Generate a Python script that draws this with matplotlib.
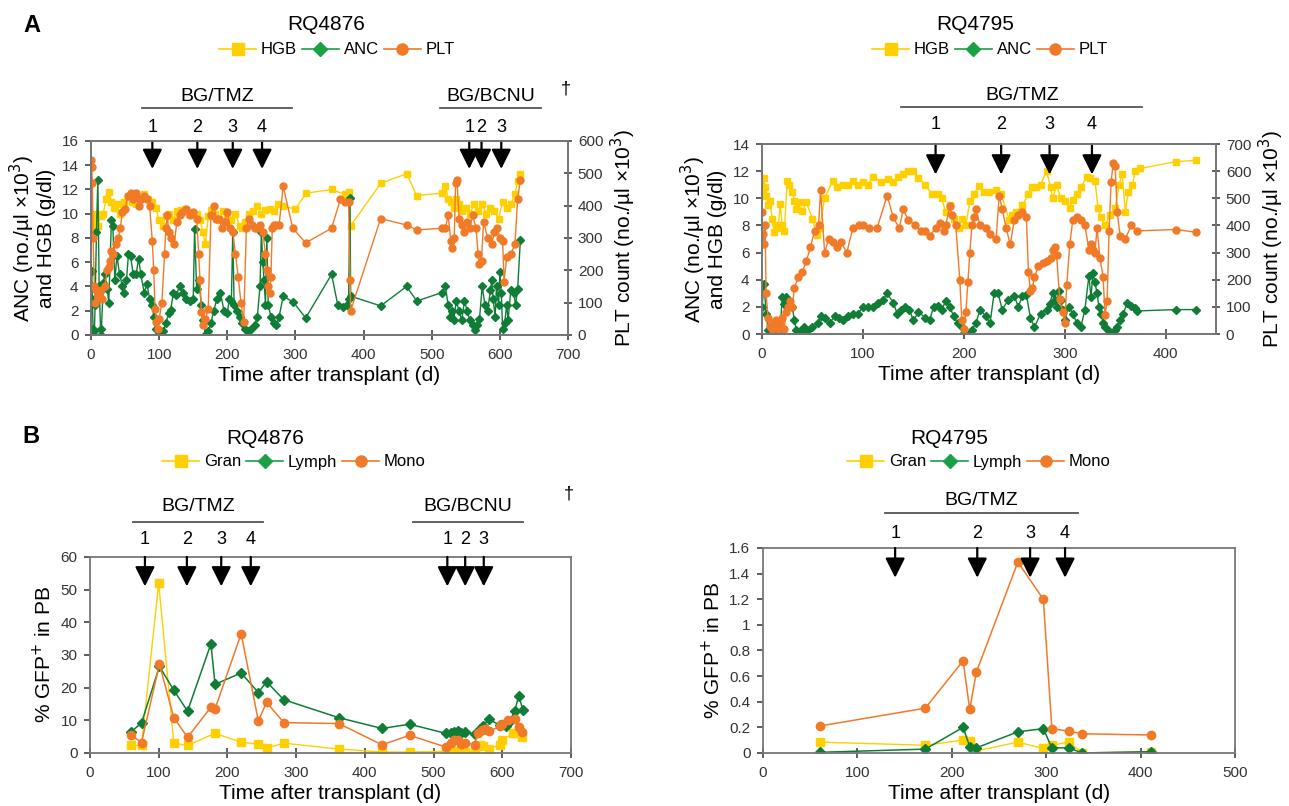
import matplotlib
matplotlib.use("Agg")
import matplotlib.pyplot as plt
from matplotlib.lines import Line2D
from matplotlib.ticker import FuncFormatter

plt.rcParams['font.family'] = ['Liberation Sans Narrow', 'Liberation Sans', 'DejaVu Sans']

YELLOW = '#FFCF00'
GREEN = '#0F7D36'
GREEN_L = '#1AA045'
ORANGE = '#F07A28'

# ---------------------------
# Panel A, RQ4876 : (day, value)
# ---------------------------
hgb_4876 = [(0, 10), (2, 9), (4, 8.5), (6, 9.5), (8, 10), (10, 9), (14, 9.8), (18, 10),
            (22, 11.2), (26, 11.8), (30, 11), (34, 10.5), (38, 10.8), (42, 10), (48, 11),
            (54, 11.5), (60, 11), (66, 10.8), (72, 11.3), (78, 11.6), (84, 11.2), (90, 11),
            (95, 10.5), (100, 9.5), (105, 9), (110, 9.8), (115, 10), (120, 9.5), (126, 10.2),
            (132, 10.3), (138, 10.4), (144, 10), (150, 10.1), (156, 10), (160, 9.5), (164, 8.5),
            (168, 7.5), (172, 9.8), (176, 10.3), (182, 10), (188, 9.5), (194, 10.2), (200, 9.8),
            (206, 9.5), (212, 10), (218, 9), (222, 8.8), (226, 9.3), (232, 10), (238, 10.2),
            (244, 10.6), (250, 10), (256, 10.3), (262, 10.4), (268, 10.2), (275, 10.8),
            (282, 10.6), (300, 10.4), (316, 11.7), (353, 12), (372, 11.6), (378, 11.8),
            (381, 9), (425, 12.5), (463, 13.3), (478, 11.5), (515, 11.7), (520, 12.3),
            (524, 11.2), (528, 11), (532, 10.5), (536, 11.2), (540, 10.8), (545, 10.2),
            (550, 10.5), (556, 10), (562, 10.8), (568, 10.2), (574, 10.8), (580, 10),
            (586, 10.5), (592, 10.2), (598, 9.6), (604, 11), (610, 10.5), (616, 10.8),
            (622, 11.6), (626, 12.7), (630, 13.3)]

anc_4876 = [(0, 4), (1, 5.3), (2, 3), (3, 0.5), (5, 0.3), (6, 2.5), (8, 8.5), (10, 12.8),
            (12, 4), (14, 0.5), (15, 0), (18, 4.3), (20, 5), (24, 3.8), (26, 2.6), (30, 9.5),
            (32, 9), (35, 4.5), (38, 6.5), (42, 5), (46, 4), (48, 3.5), (52, 4.5), (55, 6.7),
            (58, 6.5), (62, 5), (66, 5), (70, 6.3), (73, 5), (78, 3.5), (82, 4.2), (86, 3),
            (90, 2.5), (92, 1.5), (95, 0.5), (98, 0), (102, 0), (106, 0.3), (110, 1),
            (114, 1.8), (117, 2.1), (121, 3.5), (125, 3.3), (130, 4), (135, 3.5), (140, 3),
            (145, 2.8), (150, 3), (152, 8.7), (155, 3.8), (158, 4.5), (162, 2.5), (165, 1.2),
            (168, 0), (172, 0.3), (176, 1), (180, 2), (185, 3), (190, 3.5), (195, 2),
            (200, 1.8), (203, 3), (206, 2.8), (208, 8.5), (210, 2.5), (214, 2), (218, 1.5),
            (222, 1), (226, 0.5), (230, 0.3), (235, 0.5), (240, 0.8), (244, 1.5), (248, 4),
            (250, 8.5), (252, 6), (254, 4.5), (256, 2.5), (258, 8), (260, 2.5), (264, 1.5),
            (268, 1), (272, 0.8), (276, 1.5), (282, 3.2), (297, 2.7), (315, 1.4), (353, 5),
            (362, 2.5), (370, 2.3), (376, 2.5), (378, 3), (380, 11.3), (381, 3.2), (425, 2.4),
            (463, 4), (478, 2.8), (515, 3.5), (520, 4), (524, 2.5), (527, 1.5), (530, 2),
            (532, 1.2), (536, 2.8), (540, 2), (544, 1.2), (548, 2.8), (552, 2), (556, 1.2),
            (560, 0.8), (563, 0.4), (566, 0.8), (570, 1.3), (574, 4), (578, 2.5), (582, 2),
            (586, 3.7), (588, 4.5), (590, 3), (593, 1.5), (595, 4), (598, 2.5), (600, 5.2),
            (602, 3.5), (604, 0.5), (607, 1), (610, 2.5), (612, 1.2), (616, 3.7), (620, 3.5),
            (623, 2.5), (626, 3.8), (630, 7.8)]

plt_4876 = [(0, 540), (1, 520), (2, 470), (3, 300), (5, 150), (6, 100), (8, 140), (10, 120),
            (12, 130), (14, 140), (16, 110), (20, 150), (24, 200), (26, 210), (28, 230),
            (30, 260), (32, 250), (36, 280), (40, 300), (43, 330), (46, 380), (50, 390),
            (54, 430), (58, 440), (62, 420), (66, 440), (70, 400), (74, 420), (78, 430),
            (82, 420), (86, 400), (90, 290), (92, 200), (94, 80), (96, 40), (98, 20),
            (100, 50), (104, 100), (108, 250), (110, 330), (112, 370), (114, 320), (118, 300),
            (122, 280), (126, 350), (130, 370), (134, 380), (140, 390), (145, 370), (150, 380),
            (155, 360), (158, 250), (160, 170), (162, 70), (164, 30), (168, 50), (172, 80),
            (176, 370), (180, 400), (184, 360), (188, 360), (192, 330), (196, 350), (200, 380),
            (204, 330), (208, 320), (212, 250), (216, 180), (220, 100), (224, 40), (228, 330),
            (232, 360), (236, 340), (240, 330), (244, 330), (248, 340), (252, 320), (256, 250),
            (258, 200), (260, 150), (262, 130), (264, 180), (266, 330), (268, 340), (272, 340),
            (276, 340), (282, 460), (296, 330), (315, 285), (353, 330), (366, 420), (372, 410),
            (378, 410), (380, 170), (381, 75), (425, 360), (463, 340), (478, 325), (515, 330),
            (520, 330), (524, 370), (528, 290), (530, 270), (533, 300), (535, 470), (537, 480),
            (540, 360), (544, 340), (548, 320), (552, 350), (556, 330), (560, 370), (565, 330),
            (568, 250), (570, 220), (573, 230), (576, 350), (582, 300), (588, 280), (592, 320),
            (596, 330), (600, 300), (604, 290), (606, 165), (610, 240), (616, 250), (622, 280),
            (626, 420), (630, 480)]

# ---------------------------
# Panel A, RQ4795
# ---------------------------
hgb_4795 = [(0, 10.8), (1, 10.5), (2, 11.5), (3, 10.8), (4, 10.2), (6, 9.5), (8, 9.8), (10, 8.5),
            (12, 7.5), (14, 8), (16, 7.8), (18, 9.6), (20, 8), (22, 7.6), (25, 11.3), (27, 11),
            (30, 10.5), (32, 9.8), (34, 9.2), (37, 9.7), (40, 9.1), (44, 9.7), (50, 8.5),
            (54, 7.3), (57, 7.8), (62, 10), (70, 11.3), (74, 10.8), (80, 11), (85, 11), (90, 11.3),
            (95, 11), (100, 11.2), (105, 11), (110, 11.6), (118, 11.2), (125, 11.4), (130, 11.2),
            (135, 11.6), (140, 11.8), (145, 12), (150, 12), (155, 11.5), (162, 11), (168, 10.3),
            (174, 10.3), (178, 10), (182, 9), (186, 9.5), (190, 8.5), (195, 7.8), (198, 8.5),
            (202, 8), (206, 9.8), (210, 10.3), (215, 10.9), (220, 10.5), (225, 10.5), (232, 10.6),
            (237, 10.3), (245, 8.4), (248, 8.8), (252, 9), (258, 9.5), (264, 10.3), (268, 10.8),
            (272, 10.8), (276, 11), (282, 12), (286, 10.8), (288, 10), (292, 11), (296, 10),
            (300, 9.8), (305, 9.3), (308, 9.9), (312, 10.3), (316, 10.8), (322, 11.6), (325, 11.5),
            (330, 11.3), (333, 9.3), (336, 8.6), (340, 8), (345, 8.8), (350, 9.3), (354, 11),
            (357, 11.8), (360, 9), (363, 10.5), (367, 11), (370, 12), (375, 12.2), (410, 12.7),
            (430, 12.8)]

anc_4795 = [(0, 2), (2, 3.7), (4, 1.5), (6, 0.3), (8, 0.1), (10, 0.3), (12, 0), (14, 0.5),
            (16, 0.1), (18, 0.3), (20, 2.7), (22, 2.2), (24, 2.7), (26, 2.5), (30, 2), (32, 1),
            (34, 0.3), (38, 0.2), (42, 0.5), (45, 0.2), (50, 0.5), (55, 0.8), (58, 1.3),
            (62, 1.2), (67, 0.8), (72, 1.3), (76, 1.2), (80, 1), (85, 1.3), (90, 1.5), (95, 1.5),
            (100, 2), (105, 2), (110, 2), (115, 2.3), (120, 2.5), (124, 3), (130, 2.3),
            (134, 1.5), (138, 1.8), (142, 2), (146, 1.8), (150, 1), (155, 1.6), (162, 1.2),
            (166, 1), (170, 2), (174, 2.1), (178, 1.8), (182, 2.4), (186, 2), (190, 1.3),
            (194, 0.8), (198, 0.5), (200, 0.1), (204, 0), (208, 0.3), (212, 0.8), (216, 1.8),
            (222, 1.3), (226, 0.8), (230, 3), (234, 3), (238, 1.8), (244, 2.5), (250, 2.8),
            (254, 2), (258, 2.8), (262, 2.9), (266, 1.2), (270, 0.5), (276, 1.5), (282, 1.8),
            (285, 2.2), (288, 3), (290, 2.5), (292, 2), (294, 3.2), (296, 2.5), (298, 1.8),
            (300, 1), (304, 2), (308, 1.5), (312, 0.8), (316, 0.5), (320, 1.8), (324, 4.3),
            (326, 2.7), (328, 4.5), (330, 3.8), (332, 3), (334, 2), (336, 1.5), (338, 0.8),
            (340, 0.5), (344, 0.2), (346, 0.1), (350, 0.3), (352, 0.5), (355, 1), (358, 1.5),
            (362, 2.3), (366, 2.1), (370, 1.9), (372, 1.7), (410, 1.8), (430, 1.8)]

plt_4795 = [(0, 450), (1, 370), (2, 330), (3, 400), (4, 150), (6, 60), (8, 30), (10, 20),
            (12, 40), (14, 50), (16, 20), (18, 30), (20, 60), (22, 20), (24, 80), (26, 100),
            (28, 120), (30, 100), (32, 170), (36, 210), (40, 230), (44, 270), (48, 320),
            (52, 380), (56, 400), (58, 530), (62, 300), (66, 350), (70, 340), (74, 320),
            (78, 340), (84, 300), (90, 390), (96, 400), (100, 400), (106, 390), (114, 390),
            (124, 510), (130, 430), (136, 390), (140, 460), (145, 420), (152, 400), (158, 380),
            (162, 380), (166, 360), (172, 390), (176, 410), (180, 380), (182, 400), (186, 470),
            (188, 440), (192, 400), (196, 200), (198, 50), (200, 20), (202, 80), (204, 190),
            (206, 300), (208, 400), (210, 430), (212, 460), (216, 400), (222, 390), (226, 370),
            (232, 350), (235, 510), (238, 460), (242, 390), (246, 330), (250, 420), (254, 440),
            (258, 450), (262, 430), (264, 230), (266, 160), (268, 170), (270, 210), (274, 250),
            (278, 260), (282, 270), (286, 280), (288, 310), (290, 320), (292, 290), (295, 130),
            (298, 80), (300, 40), (302, 180), (305, 330), (308, 420), (312, 430), (316, 420),
            (320, 400), (324, 310), (326, 330), (328, 310), (330, 300), (332, 390), (335, 280),
            (338, 210), (340, 70), (342, 120), (344, 380), (346, 560), (348, 630), (350, 620),
            (352, 450), (355, 360), (360, 350), (366, 400), (372, 380), (410, 385), (430, 375)]

# ---------------------------
# Panel B, % GFP+ in PB
# ---------------------------
gran_4876 = [(60, 2.3), (75, 2.3), (100, 52), (122, 3), (142, 2.3), (182, 6), (220, 3.3),
             (245, 2.7), (257, 1.5), (282, 3), (362, 1.2), (425, 0.3), (465, 0.3), (518, 0.5),
             (525, 0.5), (530, 0.5), (535, 0.5), (540, 0.4), (545, 0.3), (560, 0.6), (567, 2.5),
             (572, 2), (580, 1.2), (597, 2.5), (600, 4), (615, 6), (620, 6), (628, 5)]
lymph_4876 = [(60, 6.5), (75, 9.2), (101, 26.5), (122, 19.2), (142, 12.8), (176, 33.4),
              (182, 21), (220, 24.5), (245, 18.5), (257, 21.8), (282, 16.3), (362, 10.8),
              (425, 7.5), (465, 8.8), (518, 6), (525, 6), (530, 6.3), (535, 6.6), (540, 6),
              (545, 6.3), (560, 5.8), (567, 7.2), (572, 8.3), (580, 10.3), (597, 8.5), (605, 8.2),
              (610, 9.5), (618, 12.8), (624, 17.5), (630, 13.2)]
mono_4876 = [(60, 5.5), (75, 3.2), (101, 27.2), (122, 10.8), (142, 4.8), (176, 14), (182, 13.5),
             (220, 36.5), (245, 9.8), (257, 15.5), (282, 9.3), (362, 9), (425, 2.5), (465, 5.4),
             (518, 1.8), (525, 3.2), (530, 3.9), (535, 4), (540, 2.7), (545, 3.2), (560, 2.5),
             (564, 6.2), (570, 7), (575, 7.2), (580, 6.6), (597, 8.2), (600, 9), (608, 10),
             (618, 10.5), (624, 8), (628, 6.3)]

gran_4795 = [(60, 0.085), (172, 0.06), (212, 0.10), (219, 0.09), (226, 0.015), (270, 0.085),
             (297, 0.035), (306, 0.06), (324, 0.085), (338, 0.0), (411, 0.01)]
lymph_4795 = [(60, 0.005), (172, 0.03), (212, 0.2), (219, 0.05), (226, 0.04), (270, 0.165),
              (297, 0.19), (306, 0.04), (324, 0.04), (338, 0.0), (411, 0.01)]
mono_4795 = [(60, 0.21), (172, 0.35), (212, 0.72), (219, 0.34), (226, 0.63), (270, 1.49),
             (297, 1.20), (306, 0.19), (324, 0.17), (338, 0.15), (411, 0.14)]

# treatment arrows (day) and bracket spans
tmz_4876_a = [90, 156, 208, 251]
bcnu_4876_a = [555, 573, 602]
tmz_4795_a = [172, 237, 285, 327]
tmz_4876_b = [80, 141, 191, 234]
bcnu_4876_b = [520, 546, 573]
tmz_4795_b = [140, 227, 283, 320]


def xy(pairs):
    return [p[0] for p in pairs], [p[1] for p in pairs]


def style_axis(ax, right=None):
    for s in ax.spines.values():
        s.set_color('#777777')
        s.set_linewidth(1.3)
    ax.tick_params(colors='#333333', labelsize=11, length=4, width=1.1, pad=5)
    ax.tick_params(axis='x', direction='inout', length=7, pad=6)
    if right is not None:
        right.tick_params(colors='#333333', labelsize=11, length=6, width=1.1,
                          direction='inout', pad=4)
        for s in right.spines.values():
            s.set_color('#777777')
            s.set_linewidth(1.3)


def treatment(ax, days, y_num, y_tip, fs=13):
    for i, d in enumerate(days):
        ax.text(d, y_num, str(i + 1), transform=ax.get_xaxis_transform(), ha='center',
                va='center', fontsize=fs, clip_on=False)
        ax.annotate('', xy=(d, y_tip), xytext=(d, 1.0), xycoords=ax.get_xaxis_transform(),
                    arrowprops=dict(arrowstyle='-|>,head_width=0.5,head_length=1.0',
                                    color='black', lw=1.6, shrinkA=0, shrinkB=0,
                                    mutation_scale=12), annotation_clip=False)


def bracket(ax, x0, x1, label, y_line, y_text):
    tr = ax.get_xaxis_transform()
    ax.plot([x0, x1], [y_line, y_line], color='#555555', lw=1.3, transform=tr, clip_on=False)
    ax.text((x0 + x1) / 2, y_text, label, transform=tr, ha='center', va='center',
            fontsize=14, clip_on=False)


fig = plt.figure(figsize=(12.89, 8.06), dpi=100)

# ---------- A left ----------
ax = fig.add_axes([0.0706, 0.5844, 0.3701, 0.2407])
ax2 = ax.twinx()
x, y = xy(hgb_4876)
ax.plot(x, y, '-s', color=YELLOW, mfc=YELLOW, mec=YELLOW, ms=5, lw=1)
x, y = xy(anc_4876)
ax.plot(x, y, '-D', color=GREEN, mfc=GREEN, mec=GREEN, ms=4.5, lw=1)
x, y = xy(plt_4876)
ax2.plot(x, y, '-o', color=ORANGE, mfc=ORANGE, mec=ORANGE, ms=5, lw=1)
ax.set_xlim(0, 700)
ax.set_ylim(0, 16)
ax2.set_ylim(0, 600)
ax.set_xticks(range(0, 701, 100))
ax.set_yticks(range(0, 17, 2))
ax2.set_yticks(range(0, 601, 100))
style_axis(ax, ax2)
ax.set_ylabel('ANC (no./µl ×10$^3$)\nand HGB (g/dl)', fontsize=15, linespacing=1.0)
ax2.set_ylabel('PLT count (no./µl ×10$^3$)', fontsize=15)
ax.set_xlabel('Time after transplant (d)', fontsize=15, labelpad=3)
treatment(ax, tmz_4876_a, 1.072, 0.856)
treatment(ax, bcnu_4876_a, 1.072, 0.856)
bracket(ax, 75, 295, 'BG/TMZ', 1.17, 1.227)
bracket(ax, 512, 660, 'BG/BCNU', 1.17, 1.227)
ax.text(697, 1.27, '†', transform=ax.get_xaxis_transform(), ha='center', va='center',
        fontsize=13, clip_on=False)

# ---------- A right ----------
ax = fig.add_axes([0.5912, 0.5856, 0.3522, 0.2357])
ax2 = ax.twinx()
x, y = xy(hgb_4795)
ax.plot(x, y, '-s', color=YELLOW, mfc=YELLOW, mec=YELLOW, ms=5, lw=1)
x, y = xy(anc_4795)
ax.plot(x, y, '-D', color=GREEN, mfc=GREEN, mec=GREEN, ms=4.5, lw=1)
x, y = xy(plt_4795)
ax2.plot(x, y, '-o', color=ORANGE, mfc=ORANGE, mec=ORANGE, ms=5, lw=1)
ax.set_xlim(0, 450)
ax.set_ylim(0, 14)
ax2.set_ylim(0, 700)
ax.set_xticks(range(0, 401, 100))
ax.set_yticks(range(0, 15, 2))
ax2.set_yticks(range(0, 701, 100))
style_axis(ax, ax2)
ax.set_ylabel('ANC (no./µl ×10$^3$)\nand HGB (g/dl)', fontsize=15, linespacing=1.0)
ax2.set_ylabel('PLT count (no./µl ×10$^3$)', fontsize=15)
ax.set_xlabel('Time after transplant (d)', fontsize=15, labelpad=3)
treatment(ax, tmz_4795_a, 1.105, 0.84)
bracket(ax, 138, 377, 'BG/TMZ', 1.195, 1.258)

# ---------- B left ----------
ax = fig.add_axes([0.0698, 0.0658, 0.3732, 0.2432])
x, y = xy(gran_4876)
ax.plot(x, y, '-s', color=YELLOW, mfc=YELLOW, mec=YELLOW, ms=6, lw=1)
x, y = xy(lymph_4876)
ax.plot(x, y, '-D', color=GREEN, mfc=GREEN, mec=GREEN, ms=5.5, lw=1.1)
x, y = xy(mono_4876)
ax.plot(x, y, '-o', color=ORANGE, mfc=ORANGE, mec=ORANGE, ms=6, lw=1.1)
ax.set_xlim(0, 700)
ax.set_ylim(0, 60)
ax.set_xticks(range(0, 701, 100))
ax.set_yticks(range(0, 61, 10))
style_axis(ax)
ax.tick_params(axis='y', direction='out')
ax.set_ylabel('% GFP$^{+}$ in PB', fontsize=15)
ax.set_xlabel('Time after transplant (d)', fontsize=15, labelpad=3)
treatment(ax, tmz_4876_b, 1.087, 0.85)
treatment(ax, bcnu_4876_b, 1.087, 0.85)
bracket(ax, 63, 252, 'BG/TMZ', 1.18, 1.255)
bracket(ax, 470, 630, 'BG/BCNU', 1.18, 1.255)
ax.text(697, 1.32, '†', transform=ax.get_xaxis_transform(), ha='center', va='center',
        fontsize=13, clip_on=False)

# ---------- B right ----------
ax = fig.add_axes([0.5919, 0.0658, 0.3662, 0.2543])
x, y = xy(gran_4795)
ax.plot(x, y, '-s', color=YELLOW, mfc=YELLOW, mec=YELLOW, ms=6, lw=1)
x, y = xy(lymph_4795)
ax.plot(x, y, '-D', color=GREEN, mfc=GREEN, mec=GREEN, ms=5.5, lw=1.1)
x, y = xy(mono_4795)
ax.plot(x, y, '-o', color=ORANGE, mfc=ORANGE, mec=ORANGE, ms=6, lw=1.1)
ax.set_xlim(0, 500)
ax.set_ylim(0, 1.6)
ax.set_xticks(range(0, 501, 100))
ax.set_yticks([0, 0.2, 0.4, 0.6, 0.8, 1.0, 1.2, 1.4, 1.6])
ax.yaxis.set_major_formatter(FuncFormatter(lambda v, p: '%g' % round(v, 1)))
style_axis(ax)
ax.tick_params(axis='y', direction='out')
ax.set_ylabel('% GFP$^{+}$ in PB', fontsize=15)
ax.set_xlabel('Time after transplant (d)', fontsize=15, labelpad=3)
treatment(ax, tmz_4795_b, 1.073, 0.855)
bracket(ax, 129, 334, 'BG/TMZ', 1.17, 1.234)

# ---------- titles, legends, panel letters ----------
def legend(labels, cx, cy):
    handles = [Line2D([], [], color=YELLOW, marker='s', ms=8, lw=1.2),
               Line2D([], [], color=GREEN_L, marker='D', ms=7, lw=1.2),
               Line2D([], [], color=ORANGE, marker='o', ms=8, lw=1.2)]
    fig.legend(handles, labels, loc='center', bbox_to_anchor=(cx, cy), ncol=3,
               frameon=False, fontsize=12, handlelength=2.2, handletextpad=0.3,
               columnspacing=0.3, borderpad=0)


fig.text(326 / 1289, 1 - 25 / 806, 'RQ4876', ha='center', va='center', fontsize=15)
legend(['HGB', 'ANC', 'PLT'], 337 / 1289, 1 - 50 / 806)
fig.text(975 / 1289, 1 - 25 / 806, 'RQ4795', ha='center', va='center', fontsize=15)
legend(['HGB', 'ANC', 'PLT'], 990 / 1289, 1 - 50 / 806)
fig.text(265 / 1289, 1 - 438 / 806, 'RQ4876', ha='center', va='center', fontsize=15)
legend(['Gran', 'Lymph', 'Mono'], 294 / 1289, 1 - 462 / 806)
fig.text(949 / 1289, 1 - 438 / 806, 'RQ4795', ha='center', va='center', fontsize=15)
legend(['Gran', 'Lymph', 'Mono'], 979 / 1289, 1 - 462 / 806)
fig.text(32 / 1289, 1 - 25 / 806, 'A', ha='center', va='center', fontsize=17, fontweight='bold')
fig.text(31 / 1289, 1 - 437 / 806, 'B', ha='center', va='center', fontsize=17, fontweight='bold')

fig.savefig('out.png', dpi=100)
